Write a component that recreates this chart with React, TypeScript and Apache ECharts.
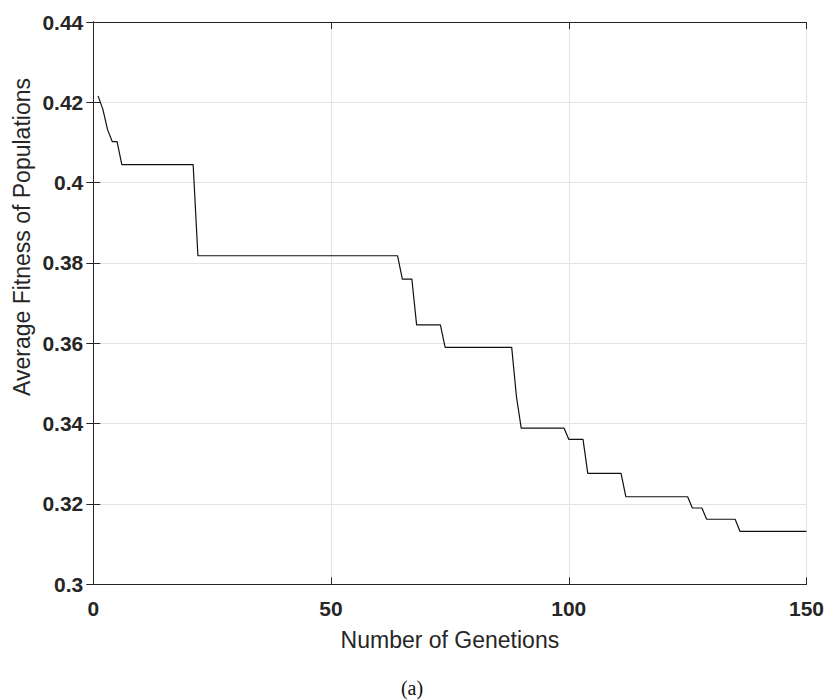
import React, { useEffect, useRef } from "react";
import * as echarts from "echarts";

const generations = [1, 2, 3, 4, 5, 6, 21, 22, 64, 65, 67, 68, 73, 74, 88, 89, 90, 99, 100, 103, 104, 111, 112, 125, 126, 128, 129, 135, 136, 150];
const fitness = [0.4216, 0.4183, 0.4132, 0.4102, 0.4102, 0.4045, 0.4045, 0.3818, 0.3818, 0.376, 0.376, 0.3646, 0.3646, 0.359, 0.359, 0.3467, 0.3389, 0.3389, 0.3361, 0.3361, 0.3276, 0.3276, 0.3218, 0.3218, 0.319, 0.319, 0.3162, 0.3162, 0.3132, 0.3132];

const xTitle = "Number of Genetions";
const yTitle = "Average Fitness of Populations";
const caption = "(a)";

const FONT = "'Liberation Sans', Arial, Helvetica, sans-serif";
const AXIS_COLOR = "#262626";

export default function App() {
  const ref = useRef<HTMLDivElement>(null);
  useEffect(() => {
    document.body.style.margin = "0";
    const chart = echarts.init(ref.current!, undefined, { renderer: "svg" });
    const data = generations.map((g, i) => [g, fitness[i]]);
    const tickLabel = {
      color: AXIS_COLOR,
      fontFamily: FONT,
      fontSize: 21,
      fontWeight: "bold" as const,
    };
    chart.setOption({
      animation: false,
      backgroundColor: "#ffffff",
      grid: { left: 93.3, right: 19.3, top: 22, bottom: 115.7, containLabel: false },
      xAxis: [
        {
          type: "value",
          min: 0,
          max: 150,
          interval: 50,
          position: "bottom",
          name: xTitle,
          nameLocation: "middle",
          nameGap: 44,
          nameTextStyle: { color: AXIS_COLOR, fontFamily: FONT, fontSize: 23 },
          axisLine: { show: true, lineStyle: { color: AXIS_COLOR, width: 1 } },
          axisTick: { show: true, inside: true, length: 7, lineStyle: { color: AXIS_COLOR } },
          axisLabel: { ...tickLabel, margin: 14 },
          splitLine: { show: true, lineStyle: { color: "#e3e3e3", width: 1 } },
        },
        {
          type: "value",
          min: 0,
          max: 150,
          interval: 50,
          position: "top",
          axisLine: { show: true, lineStyle: { color: AXIS_COLOR, width: 1 } },
          axisTick: { show: true, inside: true, length: 7, lineStyle: { color: AXIS_COLOR } },
          axisLabel: { show: false },
          splitLine: { show: false },
        },
      ],
      yAxis: [
        {
          type: "value",
          min: 0.3,
          max: 0.44,
          interval: 0.02,
          position: "left",
          axisLine: { show: true, lineStyle: { color: AXIS_COLOR, width: 1 } },
          axisTick: { show: true, inside: true, length: 7, lineStyle: { color: AXIS_COLOR } },
          axisLabel: { ...tickLabel, margin: 10 },
          splitLine: { show: true, lineStyle: { color: "#e3e3e3", width: 1 } },
        },
        {
          type: "value",
          min: 0.3,
          max: 0.44,
          interval: 0.02,
          position: "right",
          axisLine: { show: true, lineStyle: { color: AXIS_COLOR, width: 1 } },
          axisTick: { show: true, inside: true, length: 7, lineStyle: { color: AXIS_COLOR } },
          axisLabel: { show: false },
          splitLine: { show: false },
        },
      ],
      graphic: [
        {
          type: "text",
          x: 22,
          y: 237,
          rotation: Math.PI / 2,
          style: {
            text: yTitle,
            fill: AXIS_COLOR,
            font: `23px ${FONT}`,
            align: "center",
            verticalAlign: "middle",
          },
        },
        {
          type: "text",
          x: 412,
          y: 688,
          style: {
            text: caption,
            fill: "#111111",
            font: "20px 'Liberation Serif', 'Times New Roman', serif",
            align: "center",
            verticalAlign: "middle",
          },
        },
      ],
      series: [
        {
          type: "line",
          xAxisIndex: 0,
          yAxisIndex: 0,
          data,
          showSymbol: false,
          symbol: "none",
          lineStyle: { color: "#111111", width: 1.2 },
        },
      ],
    });
    return () => chart.dispose();
  }, []);
  return <div ref={ref} style={{ width: 827, height: 700 }} />;
}
